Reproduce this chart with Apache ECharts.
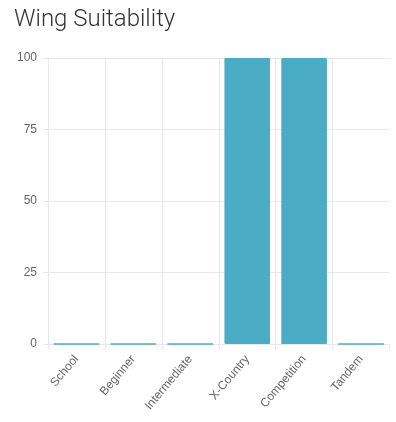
<!DOCTYPE html>
<html>
<head>
<meta charset="utf-8">
<script src="https://cdn.jsdelivr.net/npm/echarts@6/dist/echarts.min.js"></script>
<style>
  html, body { margin: 0; padding: 0; background: #fff; }
  #chart { width: 396px; height: 422px; }
</style>
</head>
<body>
<div id="chart"></div>
<script>
// data
const categories = ['School', 'Beginner', 'Intermediate', 'X-Country', 'Competition', 'Tandem']
const suitability = [0, 0, 0, 100, 100, 0]
const yTicks = [0, 25, 50, 75, 100]

const gridColor = '#e8e8e8'
const labelColor = '#666'

let myChart = echarts.init(document.getElementById('chart'))
let option = {
  color: ['#4bacc6'],
  title: {
    text: 'Wing Suitability',
    left: 9,
    top: 3,
    textStyle: {
      fontFamily: 'Roboto',
      fontWeight: 300,
      fontSize: 24,
      color: '#333'
    }
  },
  grid: {
    left: 48,
    right: 6.5,
    top: 58,
    bottom: 78,
    containLabel: false
  },
  xAxis: {
    type: 'category',
    data: categories,
    axisLine: { show: true, lineStyle: { color: gridColor } },
    axisTick: { show: true, length: 5, lineStyle: { color: gridColor } },
    splitLine: { show: true, showMaxLine: false, lineStyle: { color: gridColor } },
    axisLabel: {
      rotate: 50,
      margin: 13,
      color: labelColor,
      fontSize: 12,
      fontFamily: 'Liberation Sans, Arial, sans-serif'
    }
  },
  yAxis: {
    type: 'value',
    min: yTicks[0],
    max: yTicks[yTicks.length - 1],
    interval: 25,
    axisLine: { show: true, lineStyle: { color: gridColor } },
    axisTick: { show: true, length: 5, lineStyle: { color: gridColor } },
    splitLine: { show: true, lineStyle: { color: gridColor } },
    axisLabel: {
      margin: 11,
      color: labelColor,
      fontSize: 12,
      fontFamily: 'Liberation Sans, Arial, sans-serif'
    }
  },
  series: [
    {
      name: 'Suitability',
      type: 'bar',
      data: suitability,
      barCategoryGap: '20%',
      itemStyle: {
        borderColor: '#4bacc6',
        borderWidth: 1
      },
      emphasis: { disabled: true }
    }
  ],
  animation: false
}
myChart.setOption(option)
window.addEventListener('resize', function () {
  myChart.resize()
})
</script>
</body>
</html>
